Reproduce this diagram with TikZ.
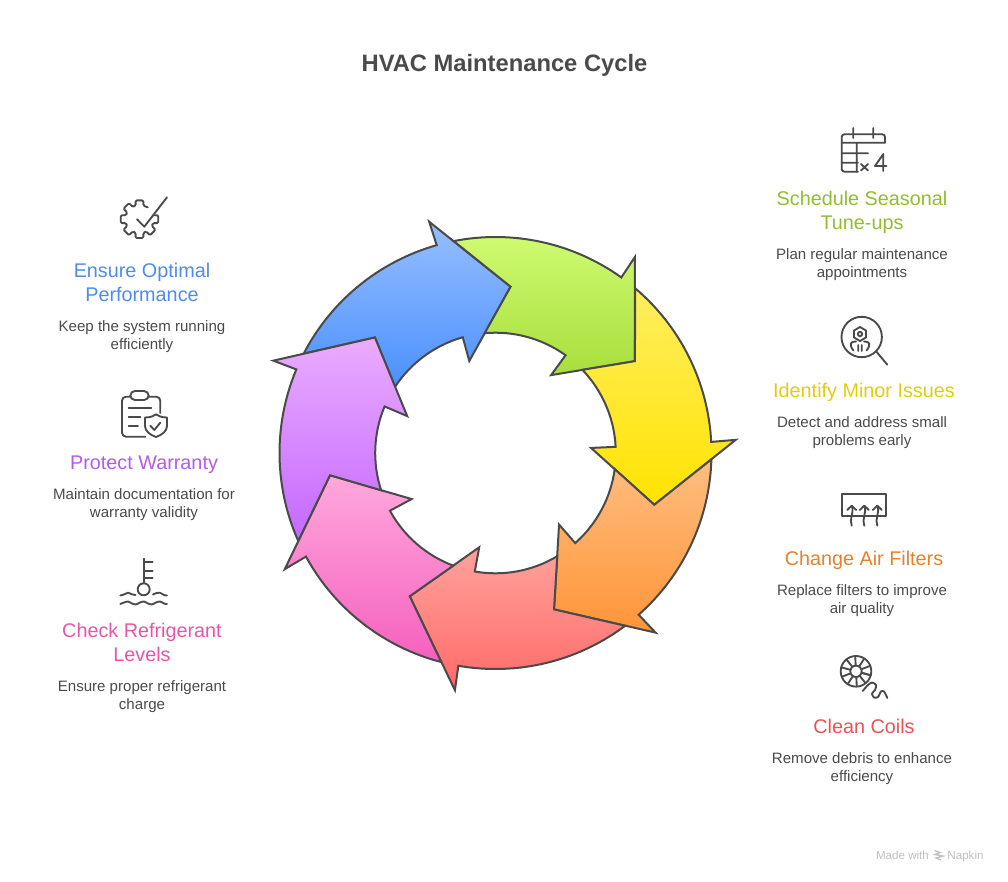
\documentclass[tikz,border=0pt]{standalone}
\usepackage{fontspec}
\setmainfont{Liberation Sans}
\usepackage{xcolor}
\usetikzlibrary{positioning}

\definecolor{ink}{HTML}{4A4A4A}
\definecolor{bluetop}{HTML}{97BEFF}
\definecolor{bluebot}{HTML}{4A90FF}
\definecolor{greentop}{HTML}{D0FC74}
\definecolor{greenbot}{HTML}{A8DE3C}
\definecolor{yellowtop}{HTML}{FFEE60}
\definecolor{yellowbot}{HTML}{FFE300}
\definecolor{orangetop}{HTML}{FFBD80}
\definecolor{orangebot}{HTML}{FF9538}
\definecolor{redtop}{HTML}{FFA29C}
\definecolor{redbot}{HTML}{FF6A68}
\definecolor{pinktop}{HTML}{FFA8DC}
\definecolor{pinkbot}{HTML}{F560BE}
\definecolor{purpletop}{HTML}{EAACFF}
\definecolor{purplebot}{HTML}{C468FF}
\definecolor{schedcol}{HTML}{8FBE2E}
\definecolor{minorcol}{HTML}{E3CB12}
\definecolor{filtercol}{HTML}{E5812D}
\definecolor{coilcol}{HTML}{EB5353}
\definecolor{perfcol}{HTML}{4F8BEB}
\definecolor{warrcol}{HTML}{B45BE8}
\definecolor{refrcol}{HTML}{E555A8}

\begin{document}
\begin{tikzpicture}[
  x=0.75pt, y=-0.75pt,
  every node/.style={inner sep=0pt, outer sep=0pt},
  segment/.style={draw=ink, line width=1.5pt, line join=miter},
  icon/.style={draw=ink, line width=1.4pt, line cap=round, line join=round},
  head/.style={anchor=south, align=center, text depth=3pt, font=\fontsize{14.85}{18}\selectfont},
  desc/.style={align=center, text=ink, below=12pt of #1, font=\fontsize{11.3}{13.5}\selectfont},
  footmark/.style={anchor=base, text=black!25, font=\fontsize{8.7}{10}\selectfont}
]
\useasboundingbox (0,0) rectangle (1008,882);

\node[text=ink, font=\fontsize{17.8}{22}\selectfont\bfseries] (title) at (504.5,65) {HVAC Maintenance Cycle};

% ring of seven arrows
\foreach \rot/\ctop/\cbot in {0/bluetop/bluebot, 51.43/greentop/greenbot, 102.86/yellowtop/yellowbot,
    154.29/orangetop/orangebot, 205.71/redtop/redbot, 257.14/pinktop/pinkbot, 308.57/purpletop/purplebot}{
  \draw[segment, shift={(495.5,453)}, top color=\ctop, bottom color=\cbot]
    ({\rot+207.4}:216) arc[start angle=\rot+207.4, end angle=\rot+254.2, radius=216]
    -- ({\rot+254}:240.6) -- ({\rot+275.2}:167) -- ({\rot+254.1}:95.7) -- ({\rot+254.2}:120.3)
    arc[start angle=\rot+254.2, end angle=\rot+213.4, radius=120.3]
    -- ({\rot+223.77}:167) -- cycle;
}

% right column
\node[head, text=schedcol] (sched) at (862,233) {Schedule Seasonal\\Tune-ups};
\node[desc=sched] (schedtxt) {Plan regular maintenance\\appointments};

\node[head, text=minorcol] (minor) at (864,401) {Identify Minor Issues};
\node[desc=minor, xshift=-1.5pt] (minortxt) {Detect and address small\\problems early};

\node[head, text=filtercol] (filter) at (864,569) {Change Air Filters};
\node[desc=filter, xshift=-1.5pt] (filtertxt) {Replace filters to improve\\air quality};

\node[head, text=coilcol] (coil) at (864,737) {Clean Coils};
\node[desc=coil, xshift=-1.5pt] (coiltxt) {Remove debris to enhance\\efficiency};

% left column
\node[head, text=perfcol] (perf) at (142,305) {Ensure Optimal\\Performance};
\node[desc=perf] (perftxt) {Keep the system running\\efficiently};

\node[head, text=warrcol] (warr) at (144,473) {Protect Warranty};
\node[desc=warr] (warrtxt) {Maintain documentation for\\warranty validity};

\node[head, text=refrcol] (refr) at (142,665) {Check Refrigerant\\Levels};
\node[desc=refr] (refrtxt) {Ensure proper refrigerant\\charge};

% calendar
\draw[icon, rounded corners=2pt] (858,171.7) -- (841.7,171.7) -- (841.7,134.3) -- (885,134.3) -- (885,142.7);
\draw[icon] (841.7,142.7) -- (885,142.7) (841.7,153.3) -- (868,153.3) (841.7,162.7) -- (858,162.7)
  (856.7,142.7) -- (856.7,171.7) (853.3,128) -- (853.3,138) (873.3,128) -- (873.3,138)
  (861,164) -- (868,170.5) (868,164) -- (861,170.5) (883.3,171) -- (883.3,154) -- (875,166) -- (886.5,166);

% magnifier
\draw[icon] (861.7,337) circle[radius=20.2] (876.7,352) -- (887.3,364.7);
\draw[icon] (860,327) -- (866,330.5) -- (866,337.5) -- (860,341) -- (854,337.5) -- (854,330.5) -- cycle;
\draw[icon] (860,334) circle[radius=2.2];
\draw[icon] (853.5,350.5) .. controls (849,345) and (850,341) .. (856,341.5) (866.5,350.5) .. controls (871,345) and (870,341) .. (864,341.5)
  (858.3,345) -- (858.3,351) (861.7,345) -- (861.7,351);

% filter
\draw[icon] (841.7,494) rectangle (886,515.7);
\foreach \xa in {851.7,864.3,877.3}{
  \draw[icon] (\xa-4.5,510) -- (\xa,505.7) -- (\xa+4.5,510);
  \draw[icon] (\xa,505.7) .. controls (\xa+3,513) and (\xa-3,519) .. (\xa,525.7);
}

% coil
\draw[icon] (856,671.3) circle[radius=15.3] (856,671.3) circle[radius=5.7];
\foreach \ang in {15,51,...,375}{
  \draw[icon] (856,671.3) ++(\ang:5.7) -- ++(\ang:9.6);
}
\draw[icon] plot[smooth] coordinates {(862.7,691) (868,685) (872,682.5) (876,685) (875,690) (872,693.5) (874,697.5) (878,697) (881,691.5) (884,691.5) (887.3,698)};

% gear with tick
\draw[icon, shift={(139.5,219.2)}, rounded corners=1pt] (-16:14) -- (-12:19.2) -- (12:19.2) -- (16:14)
  -- (29:14) -- (33:19.2) -- (57:19.2) -- (61:14)
  -- (74:14) -- (78:19.2) -- (102:19.2) -- (106:14)
  -- (119:14) -- (123:19.2) -- (147:19.2) -- (151:14)
  -- (164:14) -- (168:19.2) -- (192:19.2) -- (196:14)
  -- (209:14) -- (213:19.2) -- (237:19.2) -- (241:14)
  -- (254:14) -- (258:19.2) -- (282:19.2) -- (286:14) -- (305:14.5);
\draw[icon] (137,219.3) -- (144.3,226.7) -- (167,197.3);

% clipboard
\draw[icon, rounded corners=3pt] (145.3,436.7) -- (122,436.7) -- (122,396.7) -- (160.3,396.7) -- (160.3,413);
\draw[icon, fill=white, rounded corners=3.5pt] (130.3,391) rectangle (148.7,400);
\draw[icon] (128.7,408.3) -- (151.3,408.3) (128.7,416.7) -- (140.3,416.7) (128.7,425.7) -- (138,425.7);
\draw[icon] (156,414.3) .. controls (151,417.5) and (148,417.5) .. (145,417.5) -- (145,426)
  .. controls (145,431) and (150,435) .. (156,437) .. controls (162,435) and (167,431) .. (167,426)
  -- (167,417.5) .. controls (164,417.5) and (161,417.5) .. (156,414.3);
\draw[icon] (150.3,425.7) -- (154.3,430) -- (160.3,422.7);

% gauge
\draw[icon] (143.7,558.7) -- (143.7,583.3) (143.7,562) -- (152.7,562) (143.7,571.3) -- (152.7,571.3) (143.7,578) -- (152.7,578);
\draw[icon] (143.7,589.3) circle[radius=6];
\draw[icon] plot[smooth] coordinates {(120.3,595.5) (124,594.5) (128,592.8) (132,594.3) (135.5,595)};
\draw[icon] plot[smooth] coordinates {(153,594.5) (156,593.2) (160,592.8) (164,595) (167,595.5)};
\draw[icon] plot[smooth] coordinates {(120.3,604) (124,602.5) (128,601.5) (132,603.5) (136,604.5) (140,602.5) (144,601.5) (148,603.5) (152,604.5) (156,602.5) (160,601.5) (164,603.5) (167,604)};

% footer
\node[footmark] (made) at (902.5,859) {Made with};
\node[footmark] (napkin) at (965.5,859) {Napkin};
\draw[black!25, line width=1pt] (934.5,850.5) -- (940,852.5) -- (935,854.5) -- (943,856) -- (936,858) -- (941,860);
\end{tikzpicture}
\end{document}
